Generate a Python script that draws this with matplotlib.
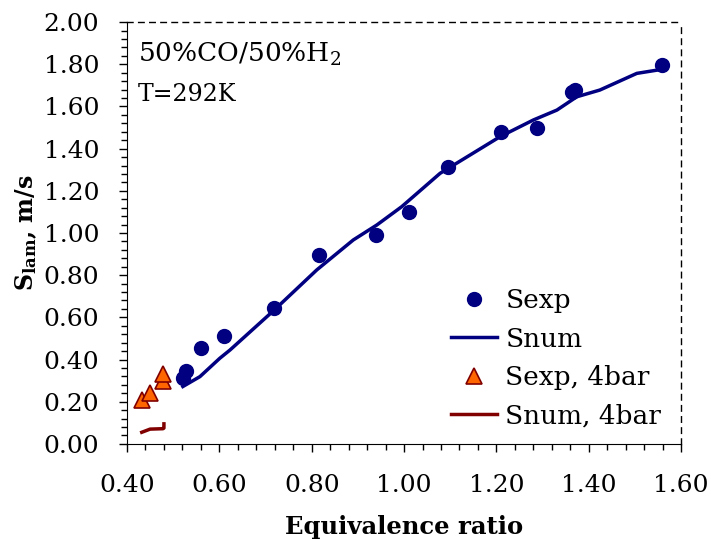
import matplotlib
matplotlib.use("Agg")
import matplotlib.pyplot as plt
from matplotlib.ticker import MultipleLocator, FormatStrFormatter

plt.rcParams['font.family'] = 'DejaVu Serif'
plt.rcParams['mathtext.fontset'] = 'dejavuserif'

# experimental points, 1 bar
phi_exp = [0.521, 0.528, 0.560, 0.611, 0.719, 0.816, 0.939, 1.011, 1.095,
           1.211, 1.287, 1.363, 1.370, 1.558]
s_exp = [0.311, 0.346, 0.456, 0.512, 0.643, 0.896, 0.991, 1.101, 1.314,
         1.480, 1.496, 1.667, 1.678, 1.796]

# numerical curve, 1 bar
phi_num = [0.521, 0.558, 0.601, 0.623, 0.719, 0.811, 0.890, 0.941, 0.995,
           1.078, 1.208, 1.280, 1.331, 1.374, 1.424, 1.504, 1.558]
s_num = [0.272, 0.319, 0.406, 0.445, 0.635, 0.825, 0.967, 1.038, 1.125,
         1.283, 1.457, 1.536, 1.583, 1.646, 1.678, 1.757, 1.776]

# 4 bar
phi_exp4 = [0.432, 0.450, 0.479, 0.479]
s_exp4 = [0.209, 0.240, 0.300, 0.330]
phi_num4 = [0.432, 0.450, 0.478, 0.480, 0.480]
s_num4 = [0.055, 0.070, 0.072, 0.075, 0.095]

navy = '#000080'
dred = '#800000'

fig = plt.figure(figsize=(7.11, 5.40), dpi=100)
ax = fig.add_axes([0.1786, 0.178, 0.7794, 0.781])

ax.plot(phi_exp, s_exp, 'o', color=navy, ms=10, label='Sexp', zorder=3)
ax.plot(phi_num, s_num, '-', color=navy, lw=2.5, label='Snum')
ax.plot(phi_exp4, s_exp4, '^', mfc='#FF6600', mec=dred, mew=1.2, ms=11,
        label='Sexp, 4bar', zorder=3)
ax.plot(phi_num4, s_num4, '-', color=dred, lw=2.5, label='Snum, 4bar')

ax.set_xlim(0.4, 1.6)
ax.set_ylim(0.0, 2.0)
ax.xaxis.set_major_locator(MultipleLocator(0.2))
ax.xaxis.set_minor_locator(MultipleLocator(0.04))
ax.yaxis.set_major_locator(MultipleLocator(0.2))
ax.yaxis.set_minor_locator(MultipleLocator(0.04))
ax.xaxis.set_major_formatter(FormatStrFormatter('%.2f'))
ax.yaxis.set_major_formatter(FormatStrFormatter('%.2f'))
ax.tick_params(which='both', direction='out', labelsize=18, width=1)
ax.tick_params(which='major', length=6)
ax.tick_params(which='minor', length=4)
ax.tick_params(axis='x', pad=16)
ax.tick_params(axis='y', pad=14)

for s in ['top', 'right']:
    ax.spines[s].set_linestyle((0, (4, 4)))
    ax.spines[s].set_linewidth(1)

ax.set_xlabel('Equivalence ratio', fontsize=17.5, fontweight='bold',
              labelpad=13)
ax.set_ylabel(r'$\mathbf{S_{lam}}$, m/s', fontsize=17, fontweight='bold',
              labelpad=3)

ax.text(0.02, 0.955, r'50%CO/50%H$_2$', transform=ax.transAxes, fontsize=19,
        va='top')
ax.text(0.02, 0.856, 'T=292K', transform=ax.transAxes, fontsize=17, va='top')

ax.legend(loc='lower right', frameon=False, fontsize=19, handlelength=1.75,
          handletextpad=0.3, labelspacing=0.51, bbox_to_anchor=(1.007, -0.02))

fig.savefig('out.png', dpi=100)
